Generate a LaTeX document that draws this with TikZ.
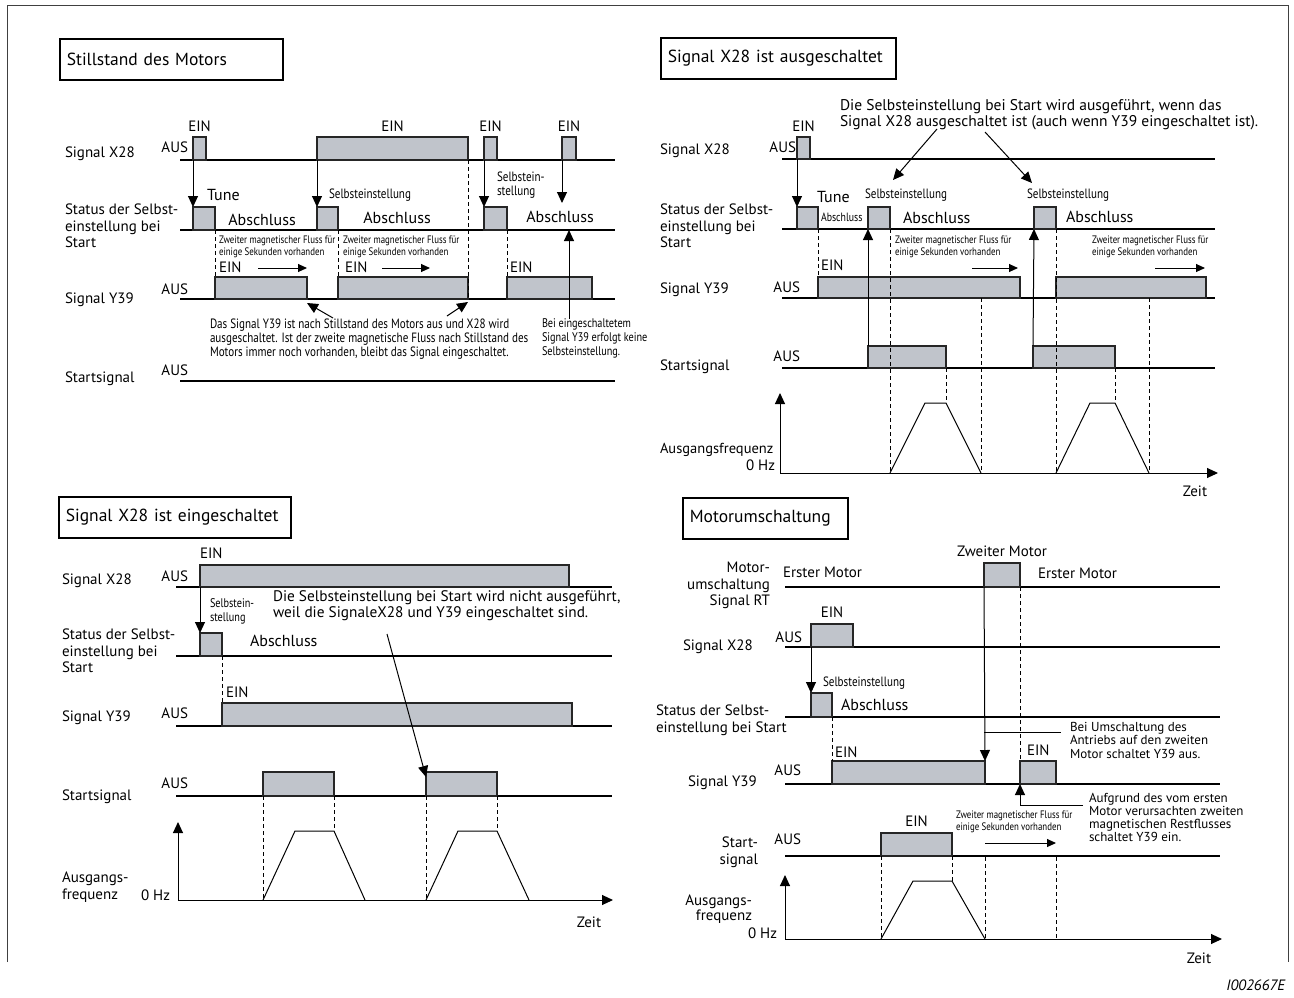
\documentclass[tikz,border=0pt]{standalone}
\usepackage{fontspec}
\setmainfont{PT Sans}
\newfontfamily\condfont[FakeStretch=0.82]{PT Sans}
\usetikzlibrary{positioning}
\usetikzlibrary{arrows.meta}
\definecolor{pulsegray}{RGB}{192,196,203}

\tikzset{
	txt/.style={font=\fontsize{15}{16.5}\selectfont,inner sep=0pt,outer sep=0pt,align=left},
	big/.style={txt,font=\fontsize{16}{17}\selectfont},
	cond/.style={font=\condfont\fontsize{13.5}{14}\selectfont,inner sep=0pt,outer sep=0pt,align=left},
	tiny/.style={font=\condfont\fontsize{10.8}{12.2}\selectfont,inner sep=0pt,outer sep=0pt,align=left},
	titlebox/.style={draw,line width=1.6pt,anchor=north west,minimum height=41pt,inner xsep=7pt,align=left,font=\fontsize{17.5}{19}\selectfont},
	pulse/.style={draw=black!85,fill=pulsegray,line width=1.1pt,inner sep=0pt,outer sep=0pt,minimum height=23pt,anchor=south west},
	base/.style={line width=1.2pt},
	guide/.style={dash pattern=on 4pt off 3pt,line width=0.8pt},
	tip/.style={line width=1pt,-{Triangle[length=11pt,width=10pt]}},
	stip/.style={line width=1pt,-{Triangle[length=9pt,width=8pt]}},
}

\begin{document}
\begin{tikzpicture}[x=1pt,y=-1pt]
	\useasboundingbox (0,0) rectangle (1294,997);
	\draw[line width=1pt,black!75] (7,962) -- (7,5) -- (1288,5) -- (1288,962);

	\node[titlebox,text width=209pt] (t_still) at (59,38) {Stillstand des Motors};
	\node[txt,anchor=west] (p1_x28) at (65,154) {Signal X28};
	\node[txt,anchor=north west] (p1_st) at (65,204) {Status der Selbst-\\einstellung bei\\Start};
	\node[txt,anchor=west] (p1_y39) at (65,300) {Signal Y39};
	\node[txt,anchor=west] (p1_start) at (65,379) {Startsignal};
	\node[txt,anchor=east] (p1_x28_aus) at (188,147) {AUS};
	\node[txt,anchor=east] (p1_y39_aus) at (188,289) {AUS};
	\node[txt,anchor=east] (p1_start_aus) at (188,370) {AUS};
	\draw[base] (180,160) -- (615,160);
	\draw[base] (180,230) -- (615,230);
	\draw[base] (180,299) -- (615,299);
	\draw[base] (180,381) -- (615,381);

	\node[pulse,minimum width=13pt] (p1_x28a) at (193,160) {};
	\node[pulse,minimum width=151pt] (p1_x28b) at (317,160) {};
	\node[pulse,minimum width=13pt] (p1_x28c) at (484,160) {};
	\node[pulse,minimum width=14pt] (p1_x28d) at (562,160) {};
	\node[txt,above=5pt of p1_x28a] (p1_ein_a) {EIN};
	\node[txt,above=5pt of p1_x28b] (p1_ein_b) {EIN};
	\node[txt,above=5pt of p1_x28c] (p1_ein_c) {EIN};
	\node[txt,above=5pt of p1_x28d] (p1_ein_d) {EIN};

	\node[pulse,minimum width=22pt] (p1_sta) at (193,230) {};
	\node[pulse,minimum width=21pt] (p1_stb) at (317,230) {};
	\node[pulse,minimum width=23pt] (p1_stc) at (484,230) {};
	\coordinate (p1_done) at (562,203);
	\draw[tip] (p1_x28a.south west) -- (p1_sta.north west);
	\draw[tip] (p1_x28b.south west) -- (p1_stb.north west);
	\draw[tip] (p1_x28c.south west) -- (p1_stc.north west);
	\draw[tip] (p1_x28d.south west) -- (p1_done);
	\node[big,anchor=west] (p1_tune) at (207,195) {Tune};
	\node[cond,anchor=west] (p1_self_b) at (329,195) {Selbsteinstellung};
	\node[cond,anchor=north west] (p1_self_c) at (497,172) {Selbstein-\\stellung};
	\node[big] (p1_abs_a) at (262,220) {Abschluss};
	\node[big] (p1_abs_b) at (397,218) {Abschluss};
	\node[big] (p1_abs_c) at (560,217) {Abschluss};

	\node[pulse,minimum width=92pt,minimum height=22pt] (p1_y39a) at (215,299) {};
	\node[pulse,minimum width=130pt,minimum height=22pt] (p1_y39b) at (338,299) {};
	\node[pulse,minimum width=85pt,minimum height=22pt] (p1_y39c) at (507,299) {};
	\draw[guide] (p1_sta.south east) -- (p1_y39a.north west);
	\draw[guide] (p1_stb.south east) -- (p1_y39b.north west);
	\draw[guide] (p1_x28b.south east) -- (p1_y39b.south east);
	\draw[guide] (p1_stc.south east) -- (p1_y39c.north west);
	\node[tiny,anchor=north west] (p1_flux_a) at (219,236) {Zweiter magnetischer Fluss für\\einige Sekunden vorhanden};
	\node[tiny,anchor=north west] (p1_flux_b) at (343,236) {Zweiter magnetischer Fluss für\\einige Sekunden vorhanden};
	\node[txt,anchor=west] (p1_y39_ein_a) at (219,267) {EIN};
	\node[txt,anchor=west] (p1_y39_ein_b) at (345,267) {EIN};
	\node[txt,anchor=west] (p1_y39_ein_c) at (510,267) {EIN};
	\draw[stip] (258,268) -- (307,268);
	\draw[stip] (382,268) -- (430,268);

	\node[cond,anchor=north west] (p1_note) at (210,319) {Das Signal Y39 ist nach Stillstand des Motors aus und X28 wird\\ausgeschaltet. Ist der zweite magnetische Fluss nach Stillstand des\\Motors immer noch vorhanden, bleibt das Signal eingeschaltet.};
	\node[cond,anchor=north west,font=\condfont\fontsize{12.5}{14}\selectfont] (p1_keine) at (542,319) {Bei eingeschaltetem\\Signal Y39 erfolgt keine\\Selbsteinstellung.};
	\coordinate (p1_n1) at (333,318);
	\coordinate (p1_n2) at (447,316);
	\draw[tip] (p1_n1) -- ([yshift=-4pt]p1_y39a.south east);
	\draw[tip] (p1_n2) -- ([yshift=-3pt]p1_y39b.south east);
	\draw[tip] (p1_keine.north west -| p1_x28d.south) -- (p1_x28d.south |- p1_stc.south);

	\node[titlebox,text width=221pt] (t_aus) at (660,37) {Signal X28 ist ausgeschaltet};
	\node[txt,anchor=west] (p2_x28) at (660,151) {Signal X28};
	\node[txt,anchor=north west] (p2_st) at (660,204) {Status der Selbst-\\einstellung bei\\Start};
	\node[txt,anchor=west] (p2_y39) at (660,290) {Signal Y39};
	\node[txt,anchor=west] (p2_start) at (660,367) {Startsignal};
	\node[txt,anchor=west,font=\fontsize{14.5}{16}\selectfont] (p2_freq) at (660,450) {Ausgangsfrequenz};
	\node[txt,anchor=east] (p2_x28_aus) at (796,147) {AUS};
	\node[txt,anchor=east] (p2_y39_aus) at (800,287) {AUS};
	\node[txt,anchor=east] (p2_start_aus) at (800,356) {AUS};
	\node[txt,anchor=east] (p2_hz) at (775,465) {0 Hz};
	\draw[base] (782,159) -- (1215,159);
	\draw[base] (782,229) -- (1215,229);
	\draw[base] (782,298) -- (1215,298);
	\draw[base] (782,368) -- (1215,368);

	\node[pulse,minimum width=13pt,minimum height=22pt] (p2_x28a) at (797,159) {};
	\node[txt,above=5pt of p2_x28a] (p2_ein) {EIN};
	\node[pulse,minimum width=21pt,minimum height=22pt] (p2_sta) at (797,229) {};
	\node[pulse,minimum width=22pt,minimum height=22pt] (p2_stb) at (868,229) {};
	\node[pulse,minimum width=22pt,minimum height=22pt] (p2_stc) at (1034,229) {};
	\draw[tip] (p2_x28a.south west) -- (p2_sta.north west);
	\node[big,anchor=west] (p2_tune) at (817,197) {Tune};
	\node[cond,anchor=west,font=\condfont\fontsize{12}{13}\selectfont] (p2_abs_a) at (821,217) {Abschluss};
	\node[cond] (p2_self_b) at (906,195) {Selbsteinstellung};
	\node[cond] (p2_self_c) at (1068,195) {Selbsteinstellung};
	\node[big,anchor=west] (p2_abs_b) at (903,218) {Abschluss};
	\node[big,anchor=west] (p2_abs_c) at (1066,217) {Abschluss};
	\node[txt,anchor=north west,font=\fontsize{15.5}{16.5}\selectfont] (p2_note) at (840,99) {Die Selbsteinstellung bei Start wird ausgeführt, wenn das\\Signal X28 ausgeschaltet ist (auch wenn Y39 eingeschaltet ist).};
	\coordinate (p2_n1) at (937,129);
	\coordinate (p2_n2) at (985,132);
	\coordinate (p2_t1) at (893,180);
	\coordinate (p2_t2) at (1032,183);
	\draw[tip] (p2_n1) -- (p2_t1);
	\draw[tip] (p2_n2) -- (p2_t2);

	\node[pulse,minimum width=202pt,minimum height=21pt] (p2_y39a) at (818,298) {};
	\node[pulse,minimum width=150pt,minimum height=21pt] (p2_y39b) at (1056,298) {};
	\node[txt,anchor=west] (p2_y39_ein) at (821,265) {EIN};
	\node[tiny,anchor=north west] (p2_flux_a) at (895,236) {Zweiter magnetischer Fluss für\\einige Sekunden vorhanden};
	\node[tiny,anchor=north west] (p2_flux_b) at (1092,236) {Zweiter magnetischer Fluss für\\einige Sekunden vorhanden};
	\draw[stip] (972,268) -- (1018,268);
	\draw[stip] (1155,268) -- (1205,268);

	\node[pulse,minimum width=78pt,minimum height=22pt] (p2_sga) at (868,368) {};
	\node[pulse,minimum width=82pt,minimum height=22pt] (p2_sgb) at (1033,368) {};
	\draw[tip] (p2_sga.north west) -- (p2_stb.south west);
	\draw[tip] (p2_sgb.north west) -- (p2_stc.south west);

	\coordinate (p2_o) at (780,473);
	\draw[tip] (p2_o) -- (780,393);
	\draw[tip] (p2_o) -- (1218,473);
	\node[txt] (p2_zeit) at (1195,491) {Zeit};
	\coordinate (p2_ra) at (890,473);
	\coordinate (p2_rb) at (981,473);
	\coordinate (p2_rc) at (1056,473);
	\coordinate (p2_rd) at (1149,473);
	\draw[line width=1pt] (p2_ra) -- (925,403) -- (946,403) -- (p2_rb);
	\draw[line width=1pt] (p2_rc) -- (1090,403) -- (1115,403) -- (p2_rd);
	\draw[guide] (p2_sta.south east) -- (p2_y39a.north west);
	\draw[guide] (p2_stb.south east) -- (p2_ra);
	\draw[guide] (p2_y39a.south east -| p2_rb) -- (p2_rb);
	\draw[guide] (p2_stc.south east) -- (p2_rc);
	\draw[guide] (p2_y39b.south east -| p2_rd) -- (p2_rd);
	\draw[guide] (p2_sga.south east) -- (946,403);
	\draw[guide] (p2_sgb.south east) -- (1115,403);

	\node[titlebox,text width=218pt] (t_ein) at (58,496) {Signal X28 ist eingeschaltet};
	\node[txt,anchor=west] (p3_x28) at (62,581) {Signal X28};
	\node[txt,anchor=north west] (p3_st) at (62,629) {Status der Selbst-\\einstellung bei\\Start};
	\node[txt,anchor=west] (p3_y39) at (62,718) {Signal Y39};
	\node[txt,anchor=west] (p3_start) at (62,797) {Startsignal};
	\node[txt,anchor=north west] (p3_freq) at (62,872) {Ausgangs-\\frequenz};
	\node[txt,anchor=east] (p3_x28_aus) at (188,576) {AUS};
	\node[txt,anchor=east] (p3_y39_aus) at (188,713) {AUS};
	\node[txt,anchor=east] (p3_start_aus) at (188,783) {AUS};
	\node[txt,anchor=east] (p3_hz) at (170,895) {0 Hz};
	\draw[base] (176,587) -- (612,587);
	\draw[base] (176,656) -- (612,656);
	\draw[base] (176,726) -- (612,726);
	\draw[base] (176,796) -- (612,796);

	\node[pulse,minimum width=369pt,minimum height=22pt] (p3_x28a) at (200,587) {};
	\node[txt,anchor=west] (p3_ein) at (200,553) {EIN};
	\node[pulse,minimum width=22pt] (p3_sta) at (200,656) {};
	\draw[tip] (p3_x28a.south west) -- (p3_sta.north west);
	\node[cond,anchor=north west,font=\condfont\fontsize{12.5}{13.5}\selectfont] (p3_self) at (210,599) {Selbstein-\\stellung};
	\node[txt,anchor=north west,font=\fontsize{15.3}{15.5}\selectfont] (p3_note) at (273,591) {Die Selbsteinstellung bei Start wird nicht ausgeführt,\\weil die SignaleX28 und Y39 eingeschaltet sind.};
	\node[big,anchor=west] (p3_abs) at (250,641) {Abschluss};
	\node[pulse,minimum width=350pt] (p3_y39a) at (222,726) {};
	\node[txt,anchor=west] (p3_y39_ein) at (226,692) {EIN};
	\draw[guide] (p3_sta.south east) -- (p3_y39a.north west);

	\node[pulse,minimum width=71pt,minimum height=24pt] (p3_sga) at (263,796) {};
	\node[pulse,minimum width=71pt,minimum height=24pt] (p3_sgb) at (426,796) {};
	\coordinate (p3_n1) at (387,634);
	\draw[tip] (p3_n1) -- ([yshift=-5pt]p3_sgb.north west);

	\coordinate (p3_o) at (178,900);
	\draw[tip] (p3_o) -- (178,822);
	\draw[tip] (p3_o) -- (613,900);
	\node[txt] (p3_zeit) at (589,922) {Zeit};
	\coordinate (p3_ra) at (263,900);
	\coordinate (p3_rb) at (365,900);
	\coordinate (p3_rc) at (426,900);
	\coordinate (p3_rd) at (529,900);
	\draw[line width=1pt] (p3_ra) -- (295,831) -- (334,831) -- (p3_rb);
	\draw[line width=1pt] (p3_rc) -- (458,831) -- (497,831) -- (p3_rd);
	\draw[guide] (p3_sga.south west) -- (p3_ra);
	\draw[guide] (p3_sga.south east) -- (334,831);
	\draw[guide] (p3_sgb.south west) -- (p3_rc);
	\draw[guide] (p3_sgb.south east) -- (497,831);

	\node[titlebox,text width=151pt] (t_motor) at (682,497) {Motorumschaltung};
	\node[txt,anchor=north east,align=right] (p4_rt) at (770,562) {Motor-\\umschaltung\\Signal RT};
	\node[txt,anchor=west] (p4_x28) at (683,647) {Signal X28};
	\node[txt,anchor=north west] (p4_st) at (656,705) {Status der Selbst-\\einstellung bei Start};
	\node[txt,anchor=west] (p4_y39) at (688,783) {Signal Y39};
	\node[txt,anchor=north east,align=right] (p4_start) at (758,837) {Start-\\signal};
	\node[txt,anchor=north east,align=right,font=\fontsize{15}{15}\selectfont] (p4_freq) at (752,895) {Ausgangs-\\frequenz};
	\node[txt,anchor=east] (p4_hz) at (777,933) {0 Hz};
	\node[txt,anchor=east] (p4_x28_aus) at (802,637) {AUS};
	\node[txt,anchor=east] (p4_y39_aus) at (801,770) {AUS};
	\node[txt,anchor=east] (p4_start_aus) at (801,839) {AUS};
	\draw[base] (785,587) -- (1220,587);
	\draw[base] (785,647) -- (1220,647);
	\draw[base] (785,717) -- (1220,717);
	\draw[base] (785,784) -- (1220,784);
	\draw[base] (785,856) -- (1220,856);

	\node[pulse,minimum width=36pt,minimum height=24pt] (p4_rta) at (984,587) {};
	\node[txt,above=6pt of p4_rta] (p4_second) {Zweiter Motor};
	\node[txt,anchor=west] (p4_first_a) at (783,572) {Erster Motor};
	\node[txt,anchor=west] (p4_first_b) at (1038,573) {Erster Motor};
	\node[pulse,minimum width=42pt] (p4_x28a) at (811,647) {};
	\node[txt,above=6pt of p4_x28a] (p4_ein) {EIN};
	\node[pulse,minimum width=21pt,minimum height=24pt] (p4_sta) at (811,717) {};
	\draw[tip] (p4_x28a.south west) -- (p4_sta.north west);
	\node[cond,anchor=west] (p4_self) at (823,683) {Selbsteinstellung};
	\node[big,anchor=west] (p4_abs) at (841,705) {Abschluss};

	\node[pulse,minimum width=153pt] (p4_y39a) at (832,784) {};
	\node[pulse,minimum width=36pt] (p4_y39b) at (1020,784) {};
	\node[txt,anchor=west] (p4_y39_ein_a) at (835,752) {EIN};
	\node[txt,anchor=west] (p4_y39_ein_b) at (1027,750) {EIN};
	\draw[guide] (p4_sta.south east) -- (p4_y39a.north west);
	\draw[guide] (p4_rta.south east) -- (p4_y39b.north west);
	\draw[tip] (p4_rta.south west) -- (p4_y39a.north east);
	\node[txt,anchor=north west,font=\fontsize{13}{13.5}\selectfont] (p4_note_a) at (1070,722) {Bei Umschaltung des\\Antriebs auf den zweiten\\Motor schaltet Y39 aus.};
	\draw[line width=1pt] (p4_rta.south west |- 0,732) -- (1061,732);
	\node[txt,anchor=north west,font=\fontsize{13}{13.2}\selectfont] (p4_note_b) at (1089,793) {Aufgrund des vom ersten\\Motor verursachten zweiten\\magnetischen Restflusses\\schaltet Y39 ein.};
	\coordinate (p4_n1) at (1083,805);
	\draw[tip] (p4_n1) -| (p4_y39b.south west);

	\node[pulse,minimum width=71pt] (p4_sga) at (881,856) {};
	\node[txt,above=6pt of p4_sga] (p4_sg_ein) {EIN};
	\node[tiny,anchor=north west] (p4_flux) at (956,811) {Zweiter magnetischer Fluss für\\einige Sekunden vorhanden};
	\coordinate (p4_fa) at (985,843);
	\coordinate (p4_fb) at (1056,843);
	\draw[stip] (p4_fa) -- (p4_fb);

	\coordinate (p4_o) at (785,939);
	\draw[tip] (p4_o) -- (785,875);
	\draw[tip] (p4_o) -- (1222,939);
	\node[txt] (p4_zeit) at (1199,958) {Zeit};
	\node[txt,anchor=east,font=\itshape\fontsize{15}{16}\selectfont] (fig_id) at (1285,985) {I002667E};
	\coordinate (p4_ra) at (881,939);
	\coordinate (p4_rb) at (985,939);
	\coordinate (p4_rc) at (1056,939);
	\draw[line width=1pt] (p4_ra) -- (913,881) -- (952,881) -- (p4_rb);
	\draw[guide] (p4_sga.south west) -- (p4_ra);
	\draw[guide] (p4_sga.south east) -- (952,881);
	\draw[guide] ([yshift=-14pt]p4_fa) -- (p4_rb);
	\draw[guide] ([yshift=-14pt]p4_fb) -- (p4_rc);
\end{tikzpicture}
\end{document}
